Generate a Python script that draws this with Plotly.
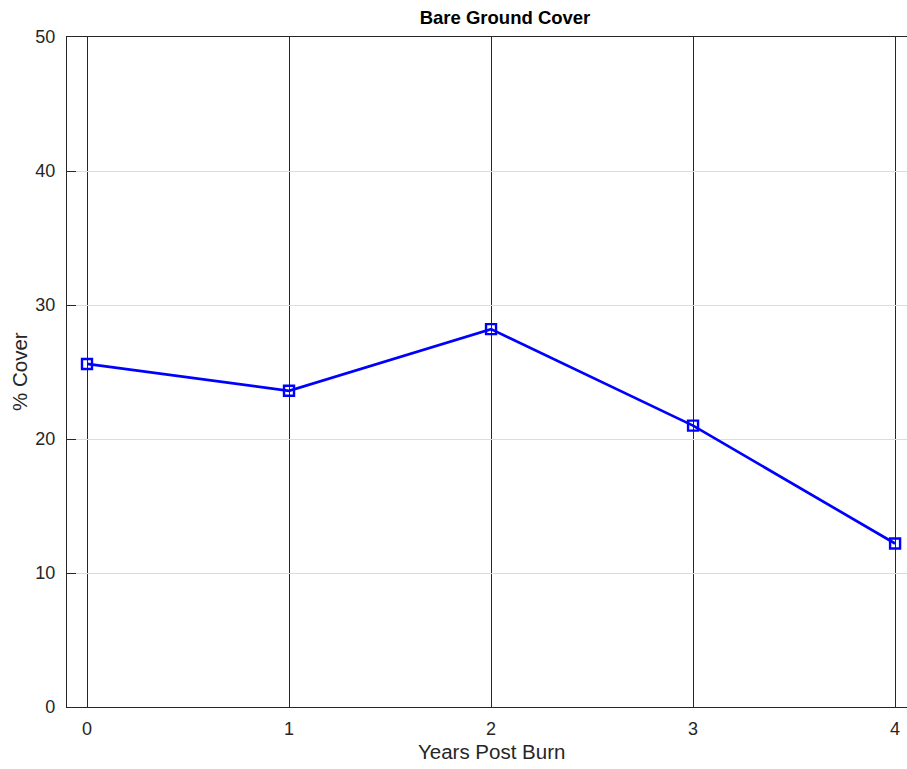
import plotly.graph_objects as go

# Bare ground cover by years since the burn
years = [0, 1, 2, 3, 4]
cover = [25.6, 23.6, 28.2, 21.0, 12.2]

x_ticks = [0, 1, 2, 3, 4]
y_ticks = [0, 10, 20, 30, 40, 50]

W, H = 907, 769
left, top, bottom = 67, 37, 62
plot_w = W - left
plot_h = H - top - bottom

FONT = "Liberation Sans, Arial, Helvetica, sans-serif"
AX = "#262626"

fig = go.Figure()
fig.add_trace(go.Scatter(
    x=years, y=cover, mode="lines+markers",
    line=dict(color="#0000ff", width=2.7),
    marker=dict(symbol="square-open", size=10, color="#0000ff",
                line=dict(color="#0000ff", width=2.4)),
    showlegend=False, cliponaxis=False,
))

fig.update_layout(
    width=W, height=H,
    margin=dict(l=left, r=0, t=top, b=bottom, pad=0),
    paper_bgcolor="white", plot_bgcolor="white",
    font=dict(family=FONT, color=AX, size=18),
    title=dict(text="<b>Bare Ground Cover</b>", x=(505 - left) / plot_w,
               xref="paper", xanchor="center", y=1 - 18 / H, yanchor="middle",
               font=dict(family=FONT, size=18.5, color="black")),
)

fig.update_xaxes(
    range=[-0.099, 4.059], tickvals=x_ticks, ticktext=[str(t) for t in x_ticks],
    showgrid=True, gridcolor=AX, gridwidth=1.3,
    showline=True, linecolor=AX, linewidth=1.3, mirror="ticks",
    ticks="inside", ticklen=9, tickcolor=AX, tickwidth=1.3,
    zeroline=False, tickfont=dict(size=18, color=AX), ticklabelstandoff=5,
)
fig.update_yaxes(
    range=[0, 50], tickvals=y_ticks, ticktext=[str(t) for t in y_ticks],
    showgrid=True, gridcolor="#dcdcdc", gridwidth=1,
    showline=True, linecolor=AX, linewidth=1.3, mirror=False,
    ticks="inside", ticklen=9, tickcolor=AX, tickwidth=1.3,
    zeroline=False, tickfont=dict(size=18, color=AX), ticklabelstandoff=7,
)

# axis titles
fig.add_annotation(text="Years Post Burn", xref="paper", yref="paper",
                   x=(491 - left) / plot_w, y=(707 - 751) / plot_h,
                   xanchor="center", yanchor="middle", showarrow=False,
                   font=dict(family=FONT, size=20.5, color=AX))
fig.add_annotation(text="% Cover", xref="paper", yref="paper",
                   x=(19 - left) / plot_w, y=(707 - 372) / plot_h,
                   xanchor="center", yanchor="middle", textangle=-90,
                   showarrow=False, font=dict(family=FONT, size=20.5, color=AX))

fig.write_html("out.html")
